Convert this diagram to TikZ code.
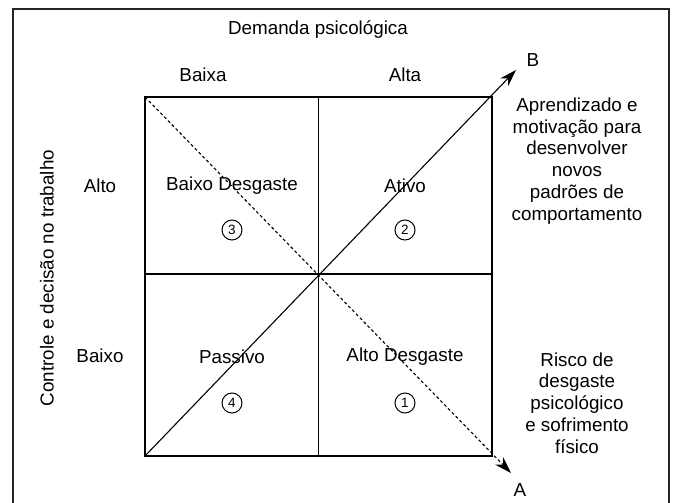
\documentclass[tikz,border=0pt]{standalone}
\usepackage{fontspec}
\setmainfont{Liberation Sans}
\usetikzlibrary{arrows.meta}
\begin{document}
\begin{tikzpicture}[x=1pt,y=-1pt,
  lbl/.style={font=\fontsize{18.8}{22}\selectfont, inner sep=0pt},
  side/.style={font=\fontsize{18.8}{21.8}\selectfont, align=center, inner sep=0pt},
  num/.style={draw, circle, line width=1pt, minimum size=20pt, inner sep=0pt, font=\fontsize{13.5}{13.5}\selectfont},
  grid/.style={line width=1.1pt},
  arr/.style={line width=1.1pt, -{Stealth[length=17pt,width=11pt]}}
]
\useasboundingbox (0,0) rectangle (673,503);
% frame (bottom edge lies outside the picture)
\begin{scope}
\clip (0,0) rectangle (673,503);
\draw[line width=2pt, black!85] (13,9) rectangle (669,520);
\end{scope}
% square corners
\coordinate (tl) at (145,97);
\coordinate (tr) at (492,97);
\coordinate (bl) at (145,456);
\coordinate (br) at (492,456);
\coordinate (tm) at (318.5,97);
\coordinate (bm) at (318.5,456);
\coordinate (lm) at (145,274);
\coordinate (rm) at (492,274);
\coordinate (Btip) at (516,70);
\coordinate (Atip) at (511,473);
\draw[grid] (tl) rectangle (br);
\draw[grid] (tm) -- (bm);
\draw[grid] (lm) -- (rm);
% diagonals
\draw[arr] (bl) -- (Btip);
\draw[arr, dash pattern=on 3pt off 2.5pt] (tl) -- (Atip);
% labels
\node[lbl] (dem) at (318,30) {Demanda psicológica};
\node[lbl] (baixa) at (203,75) {Baixa};
\node[lbl] (alta) at (405,75) {Alta};
\node[lbl] (alto) at (100,186) {Alto};
\node[lbl] (baixo) at (100,356) {Baixo};
\node[lbl, rotate=90] (ctrl) at (47,278) {Controle e decisão no trabalho};
\node[lbl] (B) at (533,60) {B};
\node[lbl] (A) at (520,490) {A};
\node[lbl] (bd) at (232,186) {Baixo Desgaste};
\node[lbl] (at) at (405,186) {Ativo};
\node[lbl] (pa) at (232,357) {Passivo};
\node[lbl] (ad) at (405,357) {Alto Desgaste};
\node[num] (n3) at (232,230) {3};
\node[num] (n2) at (405,230) {2};
\node[num] (n4) at (232,403) {4};
\node[num] (n1) at (405,403) {1};
\node[side] (apr) at (577,161) {Aprendizado e\\motivação para\\desenvolver\\novos\\padrões de\\comportamento};
\node[side] (ris) at (577,403) {Risco de\\desgaste\\psicológico\\e sofrimento\\físico};
\end{tikzpicture}
\end{document}
